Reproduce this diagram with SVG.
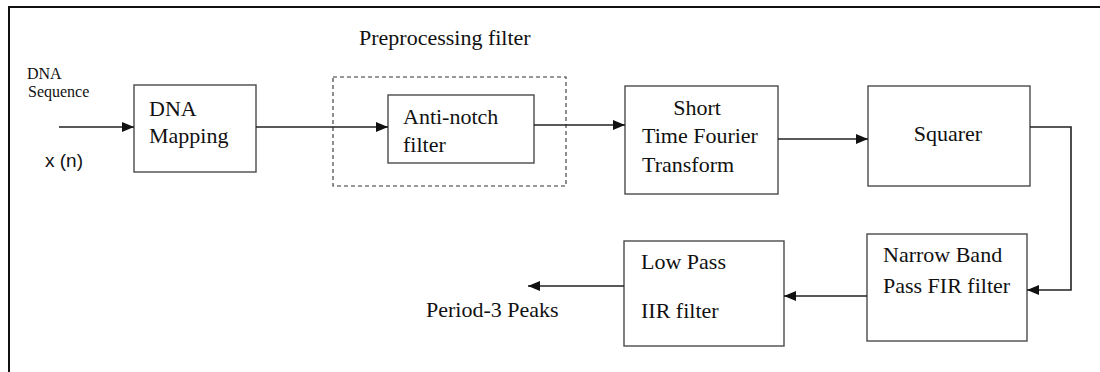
<svg xmlns="http://www.w3.org/2000/svg" width="1100" height="372" viewBox="0 0 1100 372">
  <style>
    .box { fill: #fff; stroke: #4a4a4a; stroke-width: 1.4; }
    .group { fill: none; stroke: #333; stroke-width: 1.1; stroke-dasharray: 4 3; }
    .wire { fill: none; stroke: #222; stroke-width: 1.6; }
    .t { font-family: "Liberation Serif", "Times New Roman", serif; font-size: 22px; fill: #111; }
    .small { font-family: "Liberation Serif", "Times New Roman", serif; font-size: 16px; fill: #111; }
    .sans { font-family: "Liberation Sans", Arial, sans-serif; font-size: 19px; fill: #111; }
  </style>
  <defs>
    <marker id="arrow" markerUnits="userSpaceOnUse" markerWidth="12" markerHeight="12" viewBox="0 0 12 12" refX="12" refY="6" orient="auto">
      <path d="M0,1 L12,6 L0,11 Z" fill="#111"/>
    </marker>
  </defs>

  <rect width="1100" height="372" fill="#fff"/>
  <!-- page frame -->
  <path d="M9,372 V7 H1100" fill="none" stroke="#111" stroke-width="2"/>

  <!-- input labels -->
  <g id="input-label">
    <text class="small" x="27" y="79">DNA</text>
    <text class="small" x="28" y="97">Sequence</text>
    <text class="sans" x="45" y="167">x (n)</text>
  </g>

  <g id="dna-mapping">
    <rect class="box" x="134" y="85" width="122" height="87"/>
    <text class="t" x="149" y="116">DNA</text>
    <text class="t" x="149" y="143">Mapping</text>
  </g>

  <g id="preprocessing">
    <text class="t" x="359" y="45">Preprocessing filter</text>
    <rect class="group" x="333" y="77" width="233" height="109"/>
  </g>

  <g id="anti-notch">
    <rect class="box" x="388" y="95" width="146" height="68"/>
    <text class="t" x="403" y="124">Anti-notch</text>
    <text class="t" x="403" y="152">filter</text>
  </g>

  <g id="stft">
    <rect class="box" x="625" y="86" width="153" height="108"/>
    <text class="t" x="697" y="115" text-anchor="middle">Short</text>
    <text class="t" x="642" y="143">Time Fourier</text>
    <text class="t" x="642" y="172">Transform</text>
  </g>

  <g id="squarer">
    <rect class="box" x="868" y="86" width="162" height="100"/>
    <text class="t" x="948" y="141" text-anchor="middle">Squarer</text>
  </g>

  <g id="narrow-band">
    <rect class="box" x="867" y="234" width="160" height="107"/>
    <text class="t" x="883" y="262">Narrow Band</text>
    <text class="t" x="883" y="293">Pass FIR filter</text>
  </g>

  <g id="low-pass">
    <rect class="box" x="624" y="241" width="160" height="105"/>
    <text class="t" x="641" y="269">Low Pass</text>
    <text class="t" x="641" y="318">IIR filter</text>
  </g>

  <g id="output-label">
    <text class="t" x="426" y="317">Period-3 Peaks</text>
  </g>

  <g id="connectors">
    <line class="wire" x1="59" y1="127" x2="134" y2="127" marker-end="url(#arrow)"/>
    <line class="wire" x1="256" y1="127" x2="388" y2="127" marker-end="url(#arrow)"/>
    <line class="wire" x1="534" y1="125" x2="625" y2="125" marker-end="url(#arrow)"/>
    <line class="wire" x1="778" y1="139" x2="868" y2="139" marker-end="url(#arrow)"/>
    <polyline class="wire" points="1030,127 1071,127 1071,290 1027,290" marker-end="url(#arrow)"/>
    <line class="wire" x1="867" y1="296" x2="784" y2="296" marker-end="url(#arrow)"/>
    <line class="wire" x1="624" y1="286" x2="528" y2="286" marker-end="url(#arrow)"/>
  </g>
</svg>
